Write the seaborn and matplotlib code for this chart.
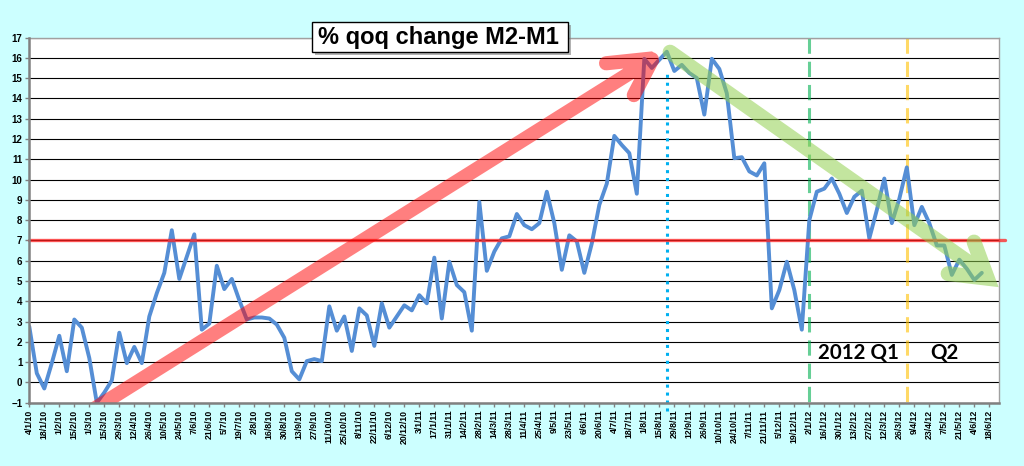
import numpy as np
import pandas as pd
import matplotlib
matplotlib.use('Agg')
import matplotlib.pyplot as plt
import seaborn as sns
from matplotlib.patches import Rectangle

# ── Data (weekly) ────────────────────────────────────────
start_date = '2010-01-04'
qoq_change = [
    2.75, 0.45, -0.3, 0.95, 2.3, 0.55, 3.1, 2.7, 1.2, -1.0,
    -0.5, 0.1, 2.45, 0.95, 1.75, 0.95, 3.25, 4.4, 5.4, 7.5,
    5.1, 6.2, 7.3, 2.6, 2.9, 5.75, 4.6, 5.1, 4.05, 3.1,
    3.2, 3.2, 3.15, 2.85, 2.2, 0.55, 0.15, 1.05, 1.15, 1.05,
    3.75, 2.55, 3.25, 1.55, 3.65, 3.3, 1.8, 3.9, 2.7, 3.25,
    3.8, 3.55, 4.3, 3.9, 6.15, 3.15, 5.95, 4.8, 4.45, 2.55,
    8.9, 5.5, 6.45, 7.1, 7.2, 8.3, 7.75, 7.55, 7.85, 9.4,
    7.85, 5.55, 7.25, 6.95, 5.4, 6.85, 8.75, 9.8, 12.15, 11.7,
    11.3, 9.3, 15.95, 15.5, 15.9, 16.3, 15.35, 15.65, 15.25, 15.0,
    13.2, 15.95, 15.45, 14.25, 11.05, 11.1, 10.4, 10.2, 10.8, 3.65,
    4.55, 5.95, 4.55, 2.6, 8.0, 9.4, 9.55, 10.05, 9.3, 8.35,
    9.15, 9.45, 7.1, 8.5, 10.05, 7.85, 9.05, 10.6, 7.75, 8.65,
    7.85, 6.75, 6.75, 5.3, 6.05, 5.6, 5.05, 5.4,
]
threshold = 7
peak_week = 85        # 22/8/11
q1_week = 104         # 2/1/12
q2_week = 117         # 2/4/12

dates = pd.date_range(start_date, periods=len(qoq_change), freq='7D')
df = pd.DataFrame({'week': np.arange(len(qoq_change)), 'value': qoq_change, 'date': dates})

tick_dates = pd.date_range(start_date, '2012-06-18', freq='14D')
tick_weeks = np.arange(0, 2 * len(tick_dates), 2)
tick_labels = [f'{d.day}/{d.month}/{d.year % 100}' for d in tick_dates]

# ── Style ────────────────────────────────────────────────
sns.set_theme(style='white')
plt.rcParams['font.family'] = ['Liberation Sans', 'DejaVu Sans']
plt.rcParams['font.weight'] = 'bold'

bg = '#ccffff'
fig = plt.figure(figsize=(10.24, 4.66), dpi=100, facecolor=bg)
ax = fig.add_axes([29.3 / 1024, 1 - 402.7 / 466, 970 / 1024, 365.2 / 466])
ax.set_facecolor('white')

# grid
ax.set_yticks(range(-1, 18))
ax.grid(axis='y', color='black', linewidth=0.8)
ax.set_axisbelow(True)

# main series
sns.lineplot(data=df, x='week', y='value', ax=ax, color='#558ed5', linewidth=2.8, zorder=3)

# horizontal 7% line
ax.plot([0, 130.1], [threshold, threshold], color='#ff2020', alpha=0.75, linewidth=2.4,
        clip_on=False, zorder=4)

# vertical markers
ax.plot([peak_week, peak_week], [-1.4, 15.4], color='#00b0f0', linewidth=2.2,
        linestyle=(0, (1, 1.6)), clip_on=False, zorder=2.5)
ax.plot([q1_week, q1_week], [17, -1.15], color='#00b050', alpha=0.6, linewidth=2.2,
        linestyle=(0, (5, 2.6)), clip_on=False, zorder=2.5)
ax.plot([q2_week, q2_week], [17, -1.3], color='#ffc000', alpha=0.6, linewidth=2.2,
        linestyle=(0, (5, 2.6)), clip_on=False, zorder=2.5)

# trend arrows: shaft, then chevron head, in one path
red_x = [8.24, 83.0, np.nan, 76.9, 83.15, 80.6]
red_y = [-1.4, 15.93, np.nan, 15.73, 15.97, 14.16]
ax.plot(red_x, red_y, color='#ff0000', alpha=0.5, linewidth=10.2,
        solid_capstyle='round', solid_joinstyle='bevel', clip_on=True, zorder=5)

green_x = [85.43, 127.4, np.nan, 122.5, 127.75, 125.96]
green_y = [16.28, 5.35, np.nan, 5.36, 5.13, 6.92]
ax.plot(green_x, green_y, color='#92d050', alpha=0.55, linewidth=10.7,
        solid_capstyle='round', solid_joinstyle='miter', clip_on=False, zorder=5)

# quarter labels
ax.text(105.2, 1.14, '2012 Q1', family=['Lato', 'DejaVu Sans'], fontsize=14.8,
        fontweight='bold', color='black', ha='left', va='baseline', zorder=6)
ax.text(120.1, 1.14, 'Q2', family=['Lato', 'DejaVu Sans'], fontsize=14.8,
        fontweight='bold', color='black', ha='left', va='baseline', zorder=6)

# axes
ax.set_xlim(0, 129.33)
ax.set_ylim(-1, 17)
ax.set_xticks(tick_weeks)
ax.set_xticklabels(tick_labels, rotation=90)
ax.set_xlabel('')
ax.set_ylabel('')
ax.tick_params(axis='x', bottom=True, length=3, width=1, color='#808080', labelsize=6.3,
               pad=2, labelcolor='black')
ax.tick_params(axis='y', left=True, length=3, width=1, color='#808080', labelsize=7,
               pad=2, labelcolor='black')
for side in ['left', 'bottom']:
    ax.spines[side].set_color('#808080')
    ax.spines[side].set_linewidth(1.8)
    ax.spines[side].set_zorder(6)
for side in ['right', 'top']:
    ax.spines[side].set_color('#a0a0a0')
    ax.spines[side].set_linewidth(1.0)

# title box with shadow
bx, by, bw, bh = 311.7 / 1024, 1 - 52.3 / 466, 256.6 / 1024, 30.6 / 466
fig.patches.append(Rectangle((bx + 3 / 1024, by - 3 / 466), bw, bh, transform=fig.transFigure,
                             facecolor='#808080', alpha=0.6, edgecolor='none', zorder=10))
fig.patches.append(Rectangle((bx, by), bw, bh, transform=fig.transFigure,
                             facecolor='white', edgecolor='black', linewidth=1, zorder=11))
fig.text(438.3 / 1024, 1 - 44.3 / 466, '% qoq change M2-M1', fontsize=17, fontweight='bold',
         ha='center', va='baseline', color='black', zorder=12)

plt.savefig('out.png', dpi=100, facecolor=bg)
print("saved out.png")
